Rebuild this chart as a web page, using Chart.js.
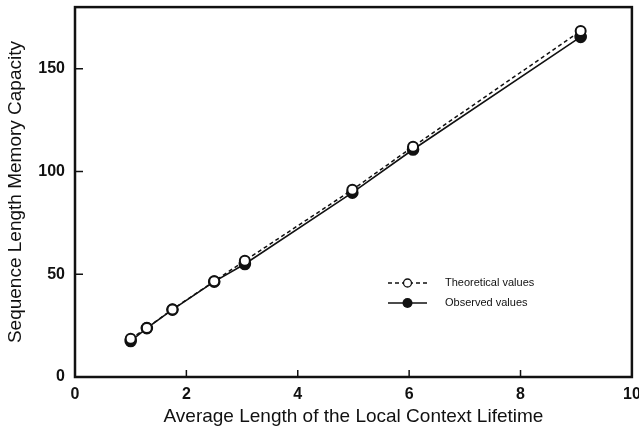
<!DOCTYPE html>
<html>
<head>
<meta charset="utf-8">
<script src="https://cdn.jsdelivr.net/npm/chart.js@4"></script>
<style>
  html, body { margin: 0; padding: 0; background: #fff; }
  #wrap { width: 639px; height: 432px; }
</style>
</head>
<body>
<div id="wrap"><canvas id="chart" width="639" height="432"></canvas></div>
<script>
// values
const lifetime = [1.0, 1.29, 1.75, 2.5, 3.05, 4.98, 6.07, 9.08];
const theoretical = [18.6, 23.9, 32.9, 46.6, 56.6, 91.1, 112.1, 168.4];
const observed = [17.5, 23.8, 32.8, 46.4, 55.0, 89.7, 110.7, 165.5];
const xTicks = [0, 2, 4, 6, 8, 10];
const yTicks = [0, 50, 100, 150];
const legendLabels = ["Theoretical values", "Observed values"];

const ink = "#111";

// frame box + inward tick marks + legend inside the plot
const framePlugin = {
  id: "frame",
  afterDraw(chart) {
    const { ctx, chartArea: a, scales } = chart;
    ctx.save();
    ctx.strokeStyle = ink;
    ctx.lineWidth = 2.5;
    ctx.strokeRect(a.left, a.top, a.right - a.left, a.bottom - a.top);

    ctx.lineWidth = 1.5;
    yTicks.forEach((v) => {
      const y = scales.y.getPixelForValue(v);
      if (v === 0) return;
      ctx.beginPath();
      ctx.moveTo(a.left, y);
      ctx.lineTo(a.left + 8, y);
      ctx.stroke();
    });
    xTicks.forEach((v) => {
      const x = scales.x.getPixelForValue(v);
      if (v === 0 || v === 10) return;
      ctx.beginPath();
      ctx.moveTo(x, a.bottom);
      ctx.lineTo(x, a.bottom - 7);
      ctx.stroke();
    });

    // legend
    const lx = 388, lx2 = 427, tx = 445;
    const rows = [283, 303];
    ctx.font = "11px 'Liberation Sans', Arial, sans-serif";
    ctx.fillStyle = ink;
    ctx.textBaseline = "middle";

    ctx.lineWidth = 1.3;
    ctx.setLineDash([4, 3]);
    ctx.beginPath();
    ctx.moveTo(lx, rows[0]);
    ctx.lineTo(lx2, rows[0]);
    ctx.stroke();
    ctx.setLineDash([]);
    ctx.beginPath();
    ctx.fillStyle = "#fff";
    ctx.arc((lx + lx2) / 2, rows[0], 4, 0, Math.PI * 2);
    ctx.fill();
    ctx.stroke();

    ctx.beginPath();
    ctx.moveTo(lx, rows[1]);
    ctx.lineTo(lx2, rows[1]);
    ctx.stroke();
    ctx.beginPath();
    ctx.fillStyle = ink;
    ctx.arc((lx + lx2) / 2, rows[1], 5, 0, Math.PI * 2);
    ctx.fill();

    ctx.fillText(legendLabels[0], tx, rows[0]);
    ctx.fillText(legendLabels[1], tx, rows[1]);
    ctx.restore();
  },
};

const tickFont = { family: "'Liberation Sans', Arial, sans-serif", size: 16, weight: "bold" };
const titleFont = { family: "'Liberation Sans', Arial, sans-serif", size: 19 };

new Chart(document.getElementById("chart").getContext("2d"), {
  type: "scatter",
  data: {
    datasets: [
      {
        label: legendLabels[0],
        data: lifetime.map((x, i) => ({ x, y: theoretical[i] })),
        showLine: true,
        borderColor: ink,
        borderWidth: 1.5,
        borderDash: [4, 3],
        pointRadius: 5,
        pointBorderWidth: 2,
        pointBackgroundColor: "#fff",
        pointBorderColor: ink,
        order: 0,
      },
      {
        label: legendLabels[1],
        data: lifetime.map((x, i) => ({ x, y: observed[i] })),
        showLine: true,
        borderColor: ink,
        borderWidth: 1.6,
        pointRadius: 5.5,
        pointBackgroundColor: ink,
        pointBorderColor: ink,
        order: 1,
      },
    ],
  },
  options: {
    responsive: false,
    animation: false,
    layout: { padding: { left: 0, right: 7, top: 4, bottom: 0 } },
    plugins: { legend: { display: false }, tooltip: { enabled: false } },
    scales: {
      x: {
        type: "linear",
        min: 0,
        max: 10,
        afterBuildTicks: (s) => { s.ticks = xTicks.map((v) => ({ value: v })); },
        afterFit: (s) => { s.height = 55; s.paddingLeft = 0; s.paddingRight = 0; },
        grid: { display: false, drawTicks: false },
        border: { display: false },
        ticks: { color: ink, font: tickFont, padding: 8, maxRotation: 0 },
        title: { display: true, text: "Average Length of the Local Context Lifetime", color: ink, font: titleFont, padding: { top: 2 } },
      },
      y: {
        type: "linear",
        min: 0,
        max: 180,
        afterBuildTicks: (s) => { s.ticks = yTicks.map((v) => ({ value: v })); },
        afterFit: (s) => { s.width = 75; s.paddingTop = 0; s.paddingBottom = 0; },
        grid: { display: false, drawTicks: false },
        border: { display: false },
        ticks: { color: ink, font: tickFont, padding: 10 },
        title: { display: true, text: "Sequence Length Memory Capacity", color: ink, font: titleFont, padding: { top: 4, bottom: 2 } },
      },
    },
  },
  plugins: [framePlugin],
});
</script>
</body>
</html>
